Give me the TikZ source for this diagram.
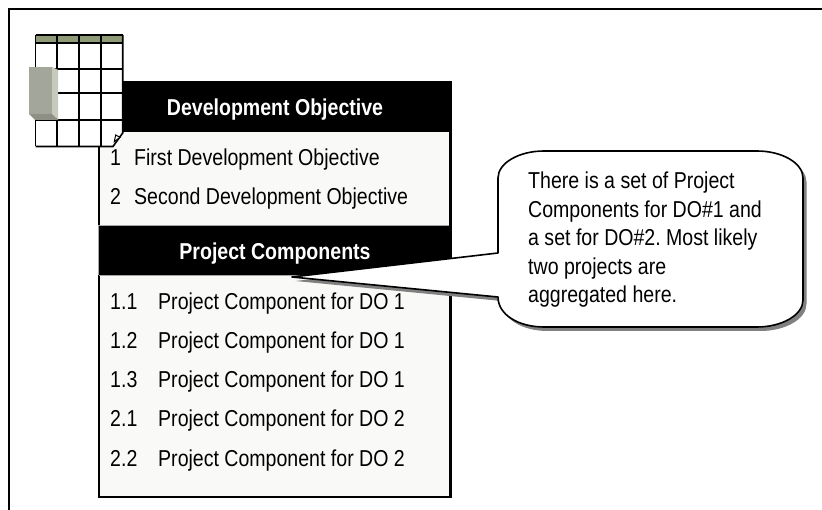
\documentclass[tikz,border=0pt]{standalone}
\usepackage{fontspec}
\setmainfont[FakeStretch=0.85]{Liberation Sans}
\usetikzlibrary{positioning}
\definecolor{panelfill}{HTML}{F9F9F7}
\definecolor{bandfill}{HTML}{8F9A76}
\definecolor{boxfront}{HTML}{A3A69B}
\definecolor{boxside}{HTML}{C6CABA}
\definecolor{boxbase}{HTML}{8E9085}
\newcommand{\calloutpath}{(498,178) .. controls (498,163) and (519,151) .. (544,151)
    -- (757,151) .. controls (782,151) and (803,163) .. (803,178)
    -- (803,300) .. controls (803,315) and (782,327) .. (757,327)
    -- (544,327) .. controls (519,327) and (498,315) .. (498,297)
    -- (292,277) -- (498,253) -- cycle}
\frenchspacing
\begin{document}
\begin{tikzpicture}[
                x=1pt,y=-1pt,
                grid/.style={draw=black,line width=1.6pt},
                label/.style={anchor=base west,inner sep=0,font=\fontsize{23}{28.5}\selectfont},
                headlabel/.style={anchor=base,inner sep=0,text=white,font=\fontsize{23}{28.5}\selectfont\bfseries},
                note/.style={anchor=north west,inner sep=0,align=left,font=\fontsize{23}{28.5}\selectfont}
            ]
                \useasboundingbox (0,0) rectangle (822,510);
                % frame
                \draw[line width=2pt] (822,9) -- (8.5,9) -- (8.5,510);
                % panel
                \fill[black] (98,81) rectangle (451.5,498);
                \fill[panelfill] (100,132) rectangle (449,225);
                \fill[panelfill] (100,275) rectangle (449,496);
                \draw[line width=0.6pt,black!35] (99,225) -- (449,225) (99,275) -- (449,275) (98.5,225) -- (98.5,275);
                \node[headlabel] (devhead) at (275,116) {Development Objective};
                \node[headlabel] (comphead) at (275,260) {Project Components};
                \node[label] (obj1num) at (110,166) {1};
                \node[label] (obj1) at (134,166) {First Development Objective};
                \node[label] (obj2num) at (110,205) {2};
                \node[label] (obj2) at (134,205) {Second Development Objective};
                \foreach \i/\n/\d/\yy in {1/1.1/1/309.3,2/1.2/1/348.6,3/1.3/1/387.8,4/2.1/2/427,5/2.2/2/466}
                    {
                    \node[label] (num\i) at (110,\yy) {\n};
                    \node[label] (comp\i) at (158,\yy) {Project Component for DO \d};
                }
                % table
                \fill[white] (35.5,35) -- (122.7,35) -- (122.7,133) -- (113,146.5) -- (35.5,146.5) -- cycle;
                \fill[bandfill] (35.5,35) rectangle (122.7,43);
                \foreach \xx in {35.5,57,79,100.7}
                    {
                    \draw[grid] (\xx,35) -- (\xx,146.5);
                }
                \foreach \yy in {35,43,69,93,120}
                    {
                    \draw[grid] (35.5,\yy) -- (122.7,\yy);
                }
                \draw[grid] (122.7,35) -- (122.7,133) -- (113,146.5) -- (35.5,146.5);
                \draw[line width=1pt,fill=white] (114.3,141.7) -- (115.7,135) -- (120,137.3) -- cycle;
                % box on the table
                \fill[boxfront] (29,67) rectangle (52,114);
                \fill[boxside] (52,67) -- (58,70) -- (58,120) -- (52,114) -- cycle;
                \fill[boxbase] (29,114) -- (52,114) -- (58,120) -- (35,120) -- cycle;
                % callout
                \fill[black!50,shift={(3.5,4)}] \calloutpath;
                \draw[line width=1.6pt,fill=white,line join=round] \calloutpath;
                \node[note] (calloutnote) at (528,172) {There is a set of Project\\Components for DO\#1 and\\a set for DO\#2. Most likely\\two projects are\\aggregated here.};
            \end{tikzpicture}
\end{document}
